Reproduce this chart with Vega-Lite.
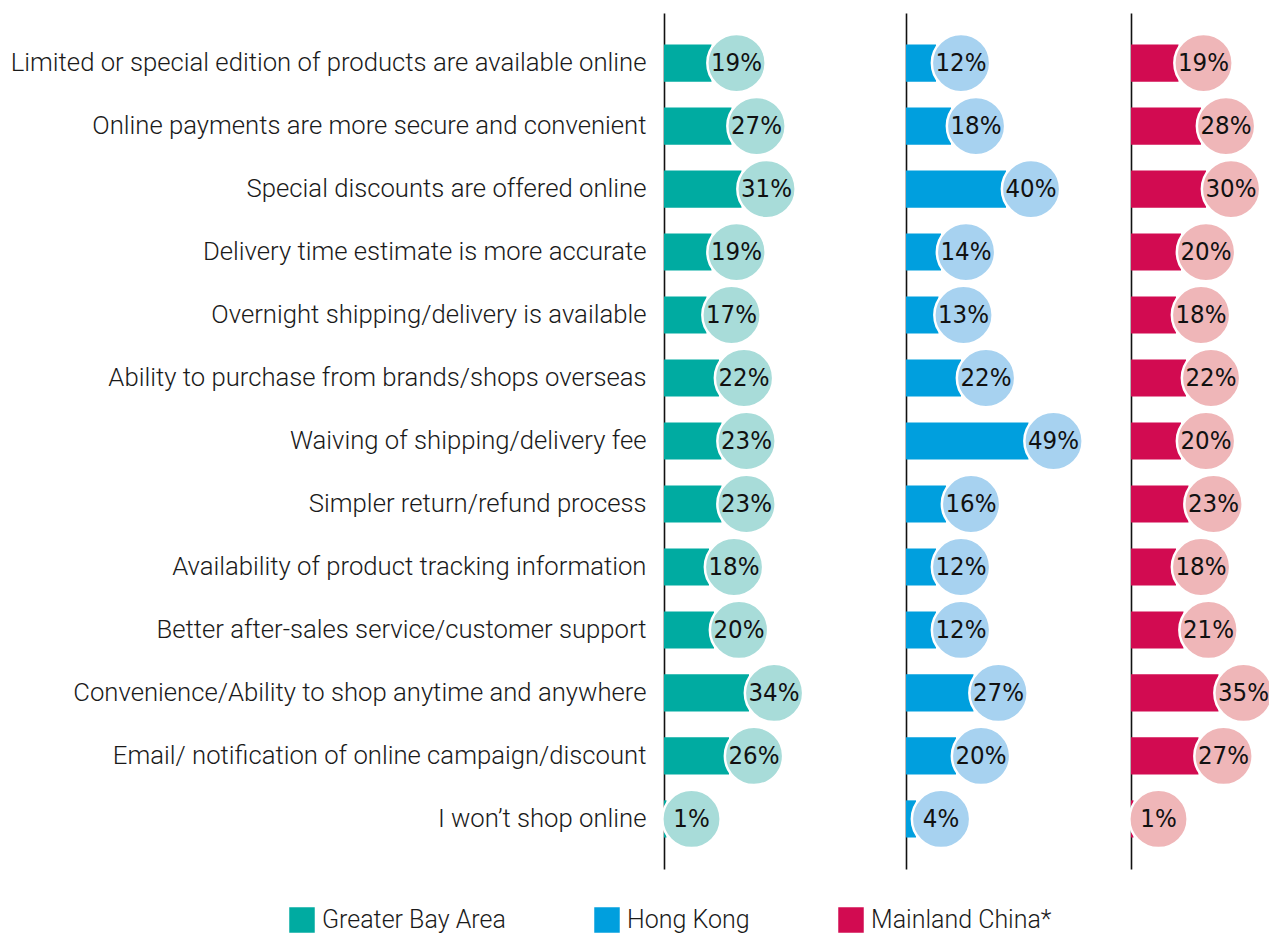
{
  "$schema": "https://vega.github.io/schema/vega-lite/v6.json",
  "padding": {"left": 10, "top": 13, "right": 0, "bottom": 0},
  "background": "white",
  "config": {
    "view": {"stroke": null},
    "concat": {"spacing": 0},
    "axisY": {"ticks": false, "domainColor": "#111111", "domainWidth": 1.6, "title": null, "grid": false}
  },
  "data": {"values": [
    {"category": "Limited or special edition of products are available online", "region": "Greater Bay Area", "value": 0.19},
    {"category": "Online payments are more secure and convenient", "region": "Greater Bay Area", "value": 0.27},
    {"category": "Special discounts are offered online", "region": "Greater Bay Area", "value": 0.31},
    {"category": "Delivery time estimate is more accurate", "region": "Greater Bay Area", "value": 0.19},
    {"category": "Overnight shipping/delivery is available", "region": "Greater Bay Area", "value": 0.17},
    {"category": "Ability to purchase from brands/shops overseas", "region": "Greater Bay Area", "value": 0.22},
    {"category": "Waiving of shipping/delivery fee", "region": "Greater Bay Area", "value": 0.23},
    {"category": "Simpler return/refund process", "region": "Greater Bay Area", "value": 0.23},
    {"category": "Availability of product tracking information", "region": "Greater Bay Area", "value": 0.18},
    {"category": "Better after-sales service/customer support", "region": "Greater Bay Area", "value": 0.20},
    {"category": "Convenience/Ability to shop anytime and anywhere", "region": "Greater Bay Area", "value": 0.34},
    {"category": "Email/ notification of online campaign/discount", "region": "Greater Bay Area", "value": 0.26},
    {"category": "I won’t shop online", "region": "Greater Bay Area", "value": 0.01},
    {"category": "Limited or special edition of products are available online", "region": "Hong Kong", "value": 0.12},
    {"category": "Online payments are more secure and convenient", "region": "Hong Kong", "value": 0.18},
    {"category": "Special discounts are offered online", "region": "Hong Kong", "value": 0.40},
    {"category": "Delivery time estimate is more accurate", "region": "Hong Kong", "value": 0.14},
    {"category": "Overnight shipping/delivery is available", "region": "Hong Kong", "value": 0.13},
    {"category": "Ability to purchase from brands/shops overseas", "region": "Hong Kong", "value": 0.22},
    {"category": "Waiving of shipping/delivery fee", "region": "Hong Kong", "value": 0.49},
    {"category": "Simpler return/refund process", "region": "Hong Kong", "value": 0.16},
    {"category": "Availability of product tracking information", "region": "Hong Kong", "value": 0.12},
    {"category": "Better after-sales service/customer support", "region": "Hong Kong", "value": 0.12},
    {"category": "Convenience/Ability to shop anytime and anywhere", "region": "Hong Kong", "value": 0.27},
    {"category": "Email/ notification of online campaign/discount", "region": "Hong Kong", "value": 0.20},
    {"category": "I won’t shop online", "region": "Hong Kong", "value": 0.04},
    {"category": "Limited or special edition of products are available online", "region": "Mainland China*", "value": 0.19},
    {"category": "Online payments are more secure and convenient", "region": "Mainland China*", "value": 0.28},
    {"category": "Special discounts are offered online", "region": "Mainland China*", "value": 0.30},
    {"category": "Delivery time estimate is more accurate", "region": "Mainland China*", "value": 0.20},
    {"category": "Overnight shipping/delivery is available", "region": "Mainland China*", "value": 0.18},
    {"category": "Ability to purchase from brands/shops overseas", "region": "Mainland China*", "value": 0.22},
    {"category": "Waiving of shipping/delivery fee", "region": "Mainland China*", "value": 0.20},
    {"category": "Simpler return/refund process", "region": "Mainland China*", "value": 0.23},
    {"category": "Availability of product tracking information", "region": "Mainland China*", "value": 0.18},
    {"category": "Better after-sales service/customer support", "region": "Mainland China*", "value": 0.21},
    {"category": "Convenience/Ability to shop anytime and anywhere", "region": "Mainland China*", "value": 0.35},
    {"category": "Email/ notification of online campaign/discount", "region": "Mainland China*", "value": 0.27},
    {"category": "I won’t shop online", "region": "Mainland China*", "value": 0.01}
  ]},
  "hconcat": [
    {
      "width": 242, "height": 856,
      "transform": [{"filter": "datum.region === 'Greater Bay Area'"}],
      "encoding": {
        "y": {"field": "category", "type": "nominal", "sort": null,
              "scale": {"paddingInner": 0.41, "paddingOuter": 0.5},
              "axis": {"labelFont": "Roboto", "labelFontWeight": 300, "labelFontSize": 25.7, "labelColor": "#1a1a1a", "labelPadding": 18, "labelLimit": 1000}},
        "x": {"field": "value", "type": "quantitative", "scale": {"domain": [0, 0.968]}, "axis": null}
      },
      "layer": [
        {"mark": {"type": "bar"},
         "encoding": {"color": {"field": "region", "type": "nominal",
            "scale": {"domain": ["Greater Bay Area", "Hong Kong", "Mainland China*"], "range": ["#00ABA1", "#009FDE", "#D20B51"]},
            "legend": {"title": null, "orient": "none", "legendX": -375, "legendY": 894, "direction": "horizontal",
                       "symbolType": "square", "symbolSize": 650, "symbolStrokeWidth": 0, "symbolOpacity": 1,
                       "labelFont": "Roboto", "labelFontWeight": 300, "labelFontSize": 25, "labelColor": "#1a1a1a",
                       "labelOffset": 7, "labelLimit": 500, "columnPadding": 88}}}},
        {"mark": {"type": "point", "shape": "circle", "filled": true, "size": 3400, "xOffset": 25, "fill": "#A8DCD9", "stroke": "white", "strokeWidth": 2.5, "opacity": 1}},
        {"mark": {"type": "text", "xOffset": 25, "font": "DejaVu Sans Condensed, Roboto", "fontSize": 25.5, "color": "#111111", "baseline": "middle", "align": "center"},
         "encoding": {"text": {"field": "value", "type": "quantitative", "format": ".0%"}}}
      ]
    },
    {
      "width": 218, "height": 856,
      "transform": [{"filter": "datum.region === 'Hong Kong'"}],
      "encoding": {
        "y": {"field": "category", "type": "nominal", "sort": null,
              "scale": {"paddingInner": 0.41, "paddingOuter": 0.5},
              "axis": {"labels": false}},
        "x": {"field": "value", "type": "quantitative", "scale": {"domain": [0, 0.872]}, "axis": null}
      },
      "layer": [
        {"mark": {"type": "bar"},
         "encoding": {"color": {"field": "region", "type": "nominal"}}},
        {"mark": {"type": "point", "shape": "circle", "filled": true, "size": 3400, "xOffset": 25, "fill": "#A7D2F0", "stroke": "white", "strokeWidth": 2.5, "opacity": 1}},
        {"mark": {"type": "text", "xOffset": 25, "font": "DejaVu Sans Condensed, Roboto", "fontSize": 25.5, "color": "#111111", "baseline": "middle", "align": "center"},
         "encoding": {"text": {"field": "value", "type": "quantitative", "format": ".0%"}}}
      ]
    },
    {
      "width": 139, "height": 856,
      "transform": [{"filter": "datum.region === 'Mainland China*'"}],
      "encoding": {
        "y": {"field": "category", "type": "nominal", "sort": null,
              "scale": {"paddingInner": 0.41, "paddingOuter": 0.5},
              "axis": {"labels": false}},
        "x": {"field": "value", "type": "quantitative", "scale": {"domain": [0, 0.556]}, "axis": null}
      },
      "layer": [
        {"mark": {"type": "bar"},
         "encoding": {"color": {"field": "region", "type": "nominal"}}},
        {"mark": {"type": "point", "shape": "circle", "filled": true, "size": 3400, "xOffset": 25, "fill": "#EFB6B8", "stroke": "white", "strokeWidth": 2.5, "opacity": 1}},
        {"mark": {"type": "text", "xOffset": 25, "font": "DejaVu Sans Condensed, Roboto", "fontSize": 25.5, "color": "#111111", "baseline": "middle", "align": "center"},
         "encoding": {"text": {"field": "value", "type": "quantitative", "format": ".0%"}}}
      ]
    }
  ],
  "resolve": {"scale": {"x": "independent", "y": "shared", "color": "shared"}, "axis": {"y": "independent"}}
}
